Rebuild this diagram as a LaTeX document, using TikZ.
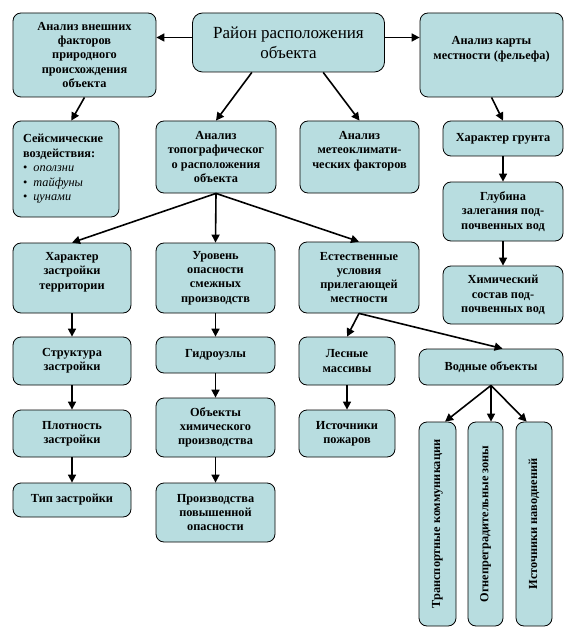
\documentclass[tikz,border=0pt]{standalone}
\usepackage{fontspec}
\setmainfont{Liberation Serif}
\newfontfamily\tnrfont{Liberation Serif}
\usepackage{graphicx}
\usetikzlibrary{arrows.meta}
\usetikzlibrary{calc}
\definecolor{boxfill}{RGB}{184,221,224}

\begin{document}
\begin{tikzpicture}[
x=1pt, y=-1pt,
box/.style={
    draw,
    line width=0.8pt,
    rounded corners=8pt,
    fill=boxfill,
    align=center,
    inner sep=2pt,
    font=\tnrfont\bfseries\fontsize{12.3}{14.2}\selectfont
},
arr/.style={
    line width=1.6pt,
    -{Triangle[length=8pt,width=8pt]}
}
]
\useasboundingbox (0,0) rectangle (577,639);

\node[box, minimum width=192, minimum height=59, rounded corners=10pt,
    font=\tnrfont\fontsize{17}{20}\selectfont] (rajon) at (288.5,42.5)
    {Район расположения\\объекта};
\node[box, minimum width=143, minimum height=84] (vnesh) at (84.5,55)
    {Анализ внешних\\факторов\\природного\\происхождения\\объекта};
\node[box, minimum width=143, minimum height=84] (karta) at (491.5,55)
    {Анализ карты\\местности (фельефа)\\\mbox{}};

\node[box, minimum width=106, minimum height=96, align=left, text width=86,
    font=\tnrfont\fontsize{12.3}{14.5}\selectfont] (seism) at (66,169)
    {\textbf{Сейсмические}\\\textbf{воздействия:}\\
     \textbullet\enspace\textit{оползни}\\
     \textbullet\enspace\textit{тайфуны}\\
     \textbullet\enspace\textit{цунами}};
\node[box, minimum width=120, minimum height=72] (topo) at (216,157)
    {Анализ\\топографическог\\о расположения\\объекта};
\node[box, minimum width=119, minimum height=72] (meteo) at (359.5,157)
    {Анализ\\метеоклимати-\\ческих факторов\\\mbox{}};
\node[box, minimum width=120, minimum height=35] (grunt) at (503,138.5)
    {Характер грунта};
\node[box, minimum width=120, minimum height=59] (glub) at (503,211.5)
    {Глубина\\залегания под-\\почвенных вод};
\node[box, minimum width=120, minimum height=58] (himsost) at (503,295)
    {Химический\\состав под-\\почвенных вод};

\node[box, minimum width=118, minimum height=70] (harzastr) at (72,278)
    {Характер\\застройки\\территории\\\mbox{}};
\node[box, minimum width=119, minimum height=70] (uroven) at (215.5,278)
    {Уровень\\опасности\\смежных\\производств};
\node[box, minimum width=120, minimum height=71] (estest) at (359,277.5)
    {Естественные\\условия\\прилегающей\\местности};

\node[box, minimum width=118, minimum height=48] (struktura) at (72,361)
    {Структура\\застройки};
\node[box, minimum width=119, minimum height=36] (gidro) at (215.5,355)
    {Гидроузлы};
\node[box, minimum width=96, minimum height=48] (lesa) at (347,361)
    {Лесные\\массивы};
\node[box, minimum width=144, minimum height=36] (vodnye) at (491,367)
    {Водные объекты};

\node[box, minimum width=118, minimum height=47] (plotnost) at (72,433.5)
    {Плотность\\застройки};
\node[box, minimum width=119, minimum height=59] (himobj) at (215.5,427.5)
    {Объекты\\химического\\производства};
\node[box, minimum width=96, minimum height=47] (pozhary) at (347,433.5)
    {Источники\\пожаров};

\node[box, minimum width=118, minimum height=34] (tipzastr) at (72,500)
    {Тип застройки};
\node[box, minimum width=119, minimum height=59] (povysh) at (215.5,512.5)
    {Производства\\повышенной\\опасности};

\node[box, minimum width=37, minimum height=204] (transport) at (437.5,524)
    {\rotatebox{90}{Транспортные коммуникации}};
\node[box, minimum width=35, minimum height=204] (ogon) at (485.5,524)
    {\rotatebox{90}{Огнепреградительные зоны}};
\node[box, minimum width=36, minimum height=204] (navodn) at (534,524)
    {\rotatebox{90}{Источники наводнений}};

\draw[arr, transform canvas={yshift=5pt}] (rajon.west) -- (rajon.west -| vnesh.east);
\draw[arr, transform canvas={yshift=5pt}] (rajon.east) -- (rajon.east -| karta.west);
\draw[arr] ($(rajon.south west)!.31!(rajon.south east)$) -- (topo.north);
\draw[arr] ($(rajon.south west)!.68!(rajon.south east)$) -- (meteo.north);
\draw[arr] (vnesh.south) -- ($(seism.north west)!.55!(seism.north east)$);
\draw[arr] (karta.south) -- (grunt.north);
\draw[arr] (grunt.south) -- (glub.north);
\draw[arr] (glub.south) -- (himsost.north);

\draw[arr] (topo.south) -- (harzastr.north);
\draw[arr] (topo.south) -- (uroven.north);
\draw[arr] (topo.south) -- (estest.north);

\draw[arr] (harzastr.south) -- (struktura.north);
\draw[arr] (struktura.south) -- (plotnost.north);
\draw[arr] (plotnost.south) -- (tipzastr.north);
\draw[arr] (uroven.south) -- (gidro.north);
\draw[arr] (gidro.south) -- (himobj.north);
\draw[arr] (himobj.south) -- (povysh.north);
\draw[arr] (estest.south) -- (lesa.north);
\draw[arr] (estest.south) -- ($(vodnye.north west)!.58!(vodnye.north east)$);
\draw[arr] (lesa.south) -- (pozhary.north);

\draw[arr] (vodnye.south) -- ($(transport.north)!.4!(transport.north east)$);
\draw[arr] (vodnye.south) -- (vodnye.south |- ogon.north);
\draw[arr] (vodnye.south) -- ($(navodn.north)!.4!(navodn.north west)$);
\end{tikzpicture}
\end{document}
